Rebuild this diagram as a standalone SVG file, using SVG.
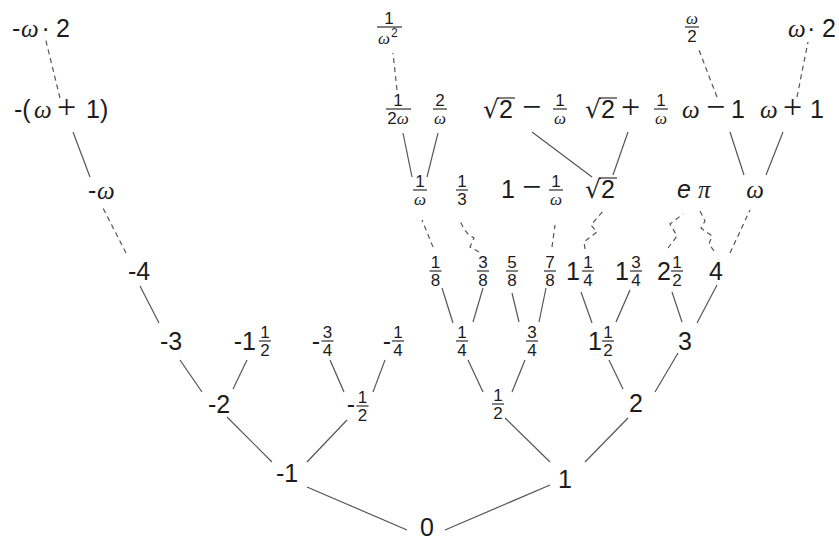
<svg xmlns="http://www.w3.org/2000/svg" width="839" height="542" viewBox="0 0 839 542">
<style>
text{font-family:"Liberation Sans",Arial,sans-serif;font-size:25px;fill:#1c1c1c}
.c{text-anchor:middle}
.r{text-anchor:end}
.s{font-size:17px}
.w{font-family:"Liberation Serif","Times New Roman",serif;font-style:italic}
.op{font-family:"Liberation Serif","Times New Roman",serif;font-size:34px}
.rt{font-family:"DejaVu Sans",sans-serif}
.it{font-style:italic}
.bar{stroke:#1c1c1c;stroke-width:1.1}
.e{stroke:#555;stroke-width:1.2;fill:none}
.d{stroke-dasharray:5 4}
</style>
<rect width="839" height="542" fill="#fff"/>
<g id="connectors">
<g class="e">
<line x1="407" y1="530" x2="307" y2="487"/>
<line x1="445" y1="530" x2="550" y2="485"/>
<line x1="272" y1="462" x2="227" y2="417"/>
<line x1="307" y1="462" x2="347" y2="420"/>
<line x1="550" y1="462" x2="505" y2="418"/>
<line x1="585" y1="462" x2="628" y2="418"/>
<line x1="202" y1="392" x2="180" y2="360"/>
<line x1="233" y1="389" x2="247" y2="360"/>
<line x1="344" y1="392" x2="330" y2="360"/>
<line x1="373" y1="392" x2="385" y2="360"/>
<line x1="483" y1="392" x2="468" y2="360"/>
<line x1="512" y1="392" x2="525" y2="360"/>
<line x1="623" y1="389" x2="609" y2="360"/>
<line x1="655" y1="392" x2="678" y2="353"/>
<line x1="159" y1="323" x2="140" y2="286"/>
<line x1="453" y1="323" x2="442" y2="288"/>
<line x1="473" y1="322" x2="483" y2="288"/>
<line x1="519" y1="322" x2="512" y2="293"/>
<line x1="539" y1="322" x2="546" y2="288"/>
<line x1="592" y1="323" x2="581" y2="292"/>
<line x1="616" y1="322" x2="630" y2="290"/>
<line x1="682" y1="322" x2="672" y2="292"/>
<line x1="697" y1="323" x2="717" y2="285"/>
<line x1="90" y1="177" x2="73" y2="132"/>
<line x1="412" y1="177" x2="403" y2="133"/>
<line x1="427" y1="177" x2="438" y2="133"/>
<line x1="592" y1="177" x2="532" y2="132"/>
<line x1="613" y1="175" x2="628" y2="132"/>
<line x1="744" y1="175" x2="730" y2="132"/>
<line x1="766" y1="175" x2="783" y2="132"/>
</g>
<g class="e d">
<line x1="126" y1="253" x2="103" y2="208"/>
<line x1="60" y1="98" x2="45" y2="37"/>
<line x1="433" y1="247" x2="422" y2="220"/>
<polyline points="479,252 470,247 474,238 468,234 464,229 460,221"/>
<line x1="552" y1="247" x2="555" y2="225"/>
<polyline points="585,249 584,242 597,232 591,225 604,210"/>
<polyline points="668,248 677,236 670,224 683,214"/>
<polyline points="714,251 709,244 712,236 701,228 705,221 700,211"/>
<line x1="730" y1="253" x2="750" y2="210"/>
<line x1="397" y1="90" x2="393" y2="53"/>
<line x1="717" y1="97" x2="699" y2="50"/>
<line x1="797" y1="97" x2="808" y2="42"/>
</g>
</g>
<g id="n0"><text class="c" x="427" y="536">0</text></g>
<g id="nm1"><text class="c" x="287" y="482">-1</text></g>
<g id="n1"><text class="c" x="565" y="488">1</text></g>
<g id="nm2"><text class="c" x="219" y="413">-2</text></g>
<g id="nmhalf"><text class="r" x="355" y="413">-</text><text class="s c" x="362.5" y="403">1</text><line class="bar" x1="356.5" y1="406" x2="368.5" y2="406"/><text class="s c" x="362.5" y="421">2</text></g>
<g id="nhalf"><text class="s c" x="498" y="401">1</text><line class="bar" x1="492" y1="404" x2="504" y2="404"/><text class="s c" x="498" y="419">2</text></g>
<g id="n2"><text class="c" x="636" y="412">2</text></g>
<g id="nm3"><text class="c" x="171" y="350">-3</text></g>
<g id="nm1half"><text class="r" x="256" y="350">-1</text><text class="s c" x="265" y="338">1</text><line class="bar" x1="259" y1="341" x2="271" y2="341"/><text class="s c" x="265" y="356">2</text></g>
<g id="nm3q"><text class="r" x="320" y="350">-</text><text class="s c" x="327.5" y="338">3</text><line class="bar" x1="321.5" y1="341" x2="333.5" y2="341"/><text class="s c" x="327.5" y="356">4</text></g>
<g id="nm1q"><text class="r" x="391" y="350">-</text><text class="s c" x="398" y="338">1</text><line class="bar" x1="392" y1="341" x2="404" y2="341"/><text class="s c" x="398" y="356">4</text></g>
<g id="n1q"><text class="s c" x="462" y="338">1</text><line class="bar" x1="456" y1="341" x2="468" y2="341"/><text class="s c" x="462" y="356">4</text></g>
<g id="n3q"><text class="s c" x="532" y="338">3</text><line class="bar" x1="526" y1="341" x2="538" y2="341"/><text class="s c" x="532" y="356">4</text></g>
<g id="n1half"><text class="r" x="602" y="350">1</text><text class="s c" x="608" y="338">1</text><line class="bar" x1="602" y1="341" x2="614" y2="341"/><text class="s c" x="608" y="356">2</text></g>
<g id="n3"><text class="c" x="685" y="350">3</text></g>
<g id="nm4"><text class="c" x="139" y="280">-4</text></g>
<g id="n1_8"><text class="s c" x="435.5" y="268">1</text><line class="bar" x1="429.5" y1="271" x2="441.5" y2="271"/><text class="s c" x="435.5" y="286">8</text></g>
<g id="n3_8"><text class="s c" x="483" y="268">3</text><line class="bar" x1="477" y1="271" x2="489" y2="271"/><text class="s c" x="483" y="286">8</text></g>
<g id="n5_8"><text class="s c" x="512" y="268">5</text><line class="bar" x1="506" y1="271" x2="518" y2="271"/><text class="s c" x="512" y="286">8</text></g>
<g id="n7_8"><text class="s c" x="550" y="268">7</text><line class="bar" x1="544" y1="271" x2="556" y2="271"/><text class="s c" x="550" y="286">8</text></g>
<g id="n1_1q"><text class="r" x="580" y="280">1</text><text class="s c" x="588" y="268">1</text><line class="bar" x1="582" y1="271" x2="594" y2="271"/><text class="s c" x="588" y="286">4</text></g>
<g id="n1_3q"><text class="r" x="629" y="280">1</text><text class="s c" x="636" y="268">3</text><line class="bar" x1="630" y1="271" x2="642" y2="271"/><text class="s c" x="636" y="286">4</text></g>
<g id="n2half"><text class="r" x="671" y="280">2</text><text class="s c" x="677" y="268">1</text><line class="bar" x1="671" y1="271" x2="683" y2="271"/><text class="s c" x="677" y="286">2</text></g>
<g id="n4"><text class="c" x="716" y="280">4</text></g>
<g id="nmw"><text x="88" y="199">-<tspan class="w" x="97">ω</tspan></text></g>
<g id="ninvw"><text class="s c" x="420" y="187">1</text><line class="bar" x1="413" y1="190" x2="427" y2="190"/><text class="s c w" x="420" y="205">ω</text></g>
<g id="nthird"><text class="s c" x="462" y="187">1</text><line class="bar" x1="456" y1="190" x2="468" y2="190"/><text class="s c" x="462" y="205">3</text></g>
<g id="n1minvw"><text x="501" y="198">1<tspan class="op" x="522">−</tspan></text><text class="s c" x="556" y="187">1</text><line class="bar" x1="549" y1="190" x2="563" y2="190"/><text class="s c w" x="556" y="205">ω</text></g>
<g id="nsqrt2"><text x="585" y="198"><tspan class="rt">√</tspan><tspan x="601">2</tspan></text><line class="bar" x1="599" y1="178" x2="617" y2="178"/></g>
<g id="ne"><text class="it" x="677" y="198">e</text></g>
<g id="npi"><text class="w" x="698" y="198">π</text></g>
<g id="nw"><text class="c w" x="755" y="198">ω</text></g>
<g id="nmw1"><text x="14" y="118">-(<tspan class="w" x="34">ω</tspan><tspan class="op" x="57">+</tspan><tspan x="86">1)</tspan></text></g>
<g id="ninv2w"><text class="s c" x="398" y="106">1</text><line class="bar" x1="386" y1="109" x2="411" y2="109"/><text class="s c" x="398" y="124">2<tspan class="w">ω</tspan></text></g>
<g id="n2w"><text class="s c" x="440" y="106">2</text><line class="bar" x1="433" y1="109" x2="447" y2="109"/><text class="s c w" x="440" y="124">ω</text></g>
<g id="nsqrt2m"><text x="483" y="118"><tspan class="rt">√</tspan><tspan x="499">2</tspan><tspan class="op" x="522">−</tspan></text><line class="bar" x1="497" y1="98" x2="515" y2="98"/><text class="s c" x="560" y="106">1</text><line class="bar" x1="553" y1="109" x2="567" y2="109"/><text class="s c w" x="560" y="124">ω</text></g>
<g id="nsqrt2p"><text x="585" y="118"><tspan class="rt">√</tspan><tspan x="601">2</tspan><tspan class="op" x="621">+</tspan></text><line class="bar" x1="599" y1="98" x2="617" y2="98"/><text class="s c" x="661" y="106">1</text><line class="bar" x1="654" y1="109" x2="668" y2="109"/><text class="s c w" x="661" y="124">ω</text></g>
<g id="nwm1"><text x="682" y="118"><tspan class="w">ω</tspan><tspan class="op" x="706">−</tspan><tspan x="731">1</tspan></text></g>
<g id="nwp1"><text x="760" y="118"><tspan class="w">ω</tspan><tspan class="op" x="783">+</tspan><tspan x="810">1</tspan></text></g>
<g id="nmw2"><text x="12" y="37">-<tspan class="w" x="21">ω</tspan><tspan x="41.5">·</tspan><tspan x="56">2</tspan></text></g>
<g id="ninvw2"><text class="s c" x="389" y="24">1</text><line class="bar" x1="377" y1="27" x2="402" y2="27"/><text class="s w" x="378" y="44">ω</text><text x="391" y="37" style="font-size:12px">2</text></g>
<g id="nwhalf"><text class="s c w" x="692" y="24">ω</text><line class="bar" x1="685" y1="27" x2="699" y2="27"/><text class="s c" x="692" y="42">2</text></g>
<g id="nw2"><text x="788" y="37"><tspan class="w">ω</tspan><tspan x="807">·</tspan><tspan x="822">2</tspan></text></g>
</svg>
